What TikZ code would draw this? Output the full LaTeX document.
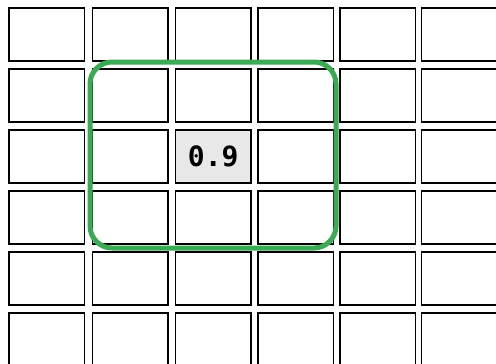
\documentclass[tikz,border=0pt]{standalone}
\usepackage{fontspec}
\newfontfamily\cellmono{DejaVu Sans Mono}
\definecolor{winGreen}{RGB}{58,170,84}
\definecolor{cellGrey}{RGB}{232,232,232}
\tikzset{
  cellbox/.style={draw=black, line width=1.8pt, fill=white, anchor=north west,
    inner sep=0pt, outer sep=0pt, minimum width=75.5pt, minimum height=53.6pt},
  hotcell/.style={cellbox, fill=cellGrey},
  valtext/.style={font=\cellmono\bfseries\fontsize{28}{32}\selectfont, inner sep=0pt},
  window/.style={draw=winGreen, line width=5pt, rounded corners=22pt,
    inner sep=0pt, minimum width=246pt, minimum height=186pt}
}
\begin{document}
\begin{tikzpicture}[x=1pt,y=-1pt]
\useasboundingbox (0,0) rectangle (496,364);
\clip (0,0) rectangle (496,364);
\foreach \c/\x in {1/9, 2/92.5, 3/175.5, 4/258, 5/340, 6/421.5}{
  \foreach \r in {1,...,6}{
    \pgfmathsetmacro{\yy}{7.7+61*(\r-1)}
    \ifnum\c=3 \ifnum\r=3 \else
      \node[cellbox] (c\c r\r) at (\x,\yy) {};
    \fi\else
      \node[cellbox] (c\c r\r) at (\x,\yy) {};
    \fi
  }
}
\node[hotcell] (c3r3) at (175.5,129.7) {};
\node[valtext] (val) at (c3r3.center) {0.9};
\node[window] (win) at (213,155) {};
\end{tikzpicture}
\end{document}
